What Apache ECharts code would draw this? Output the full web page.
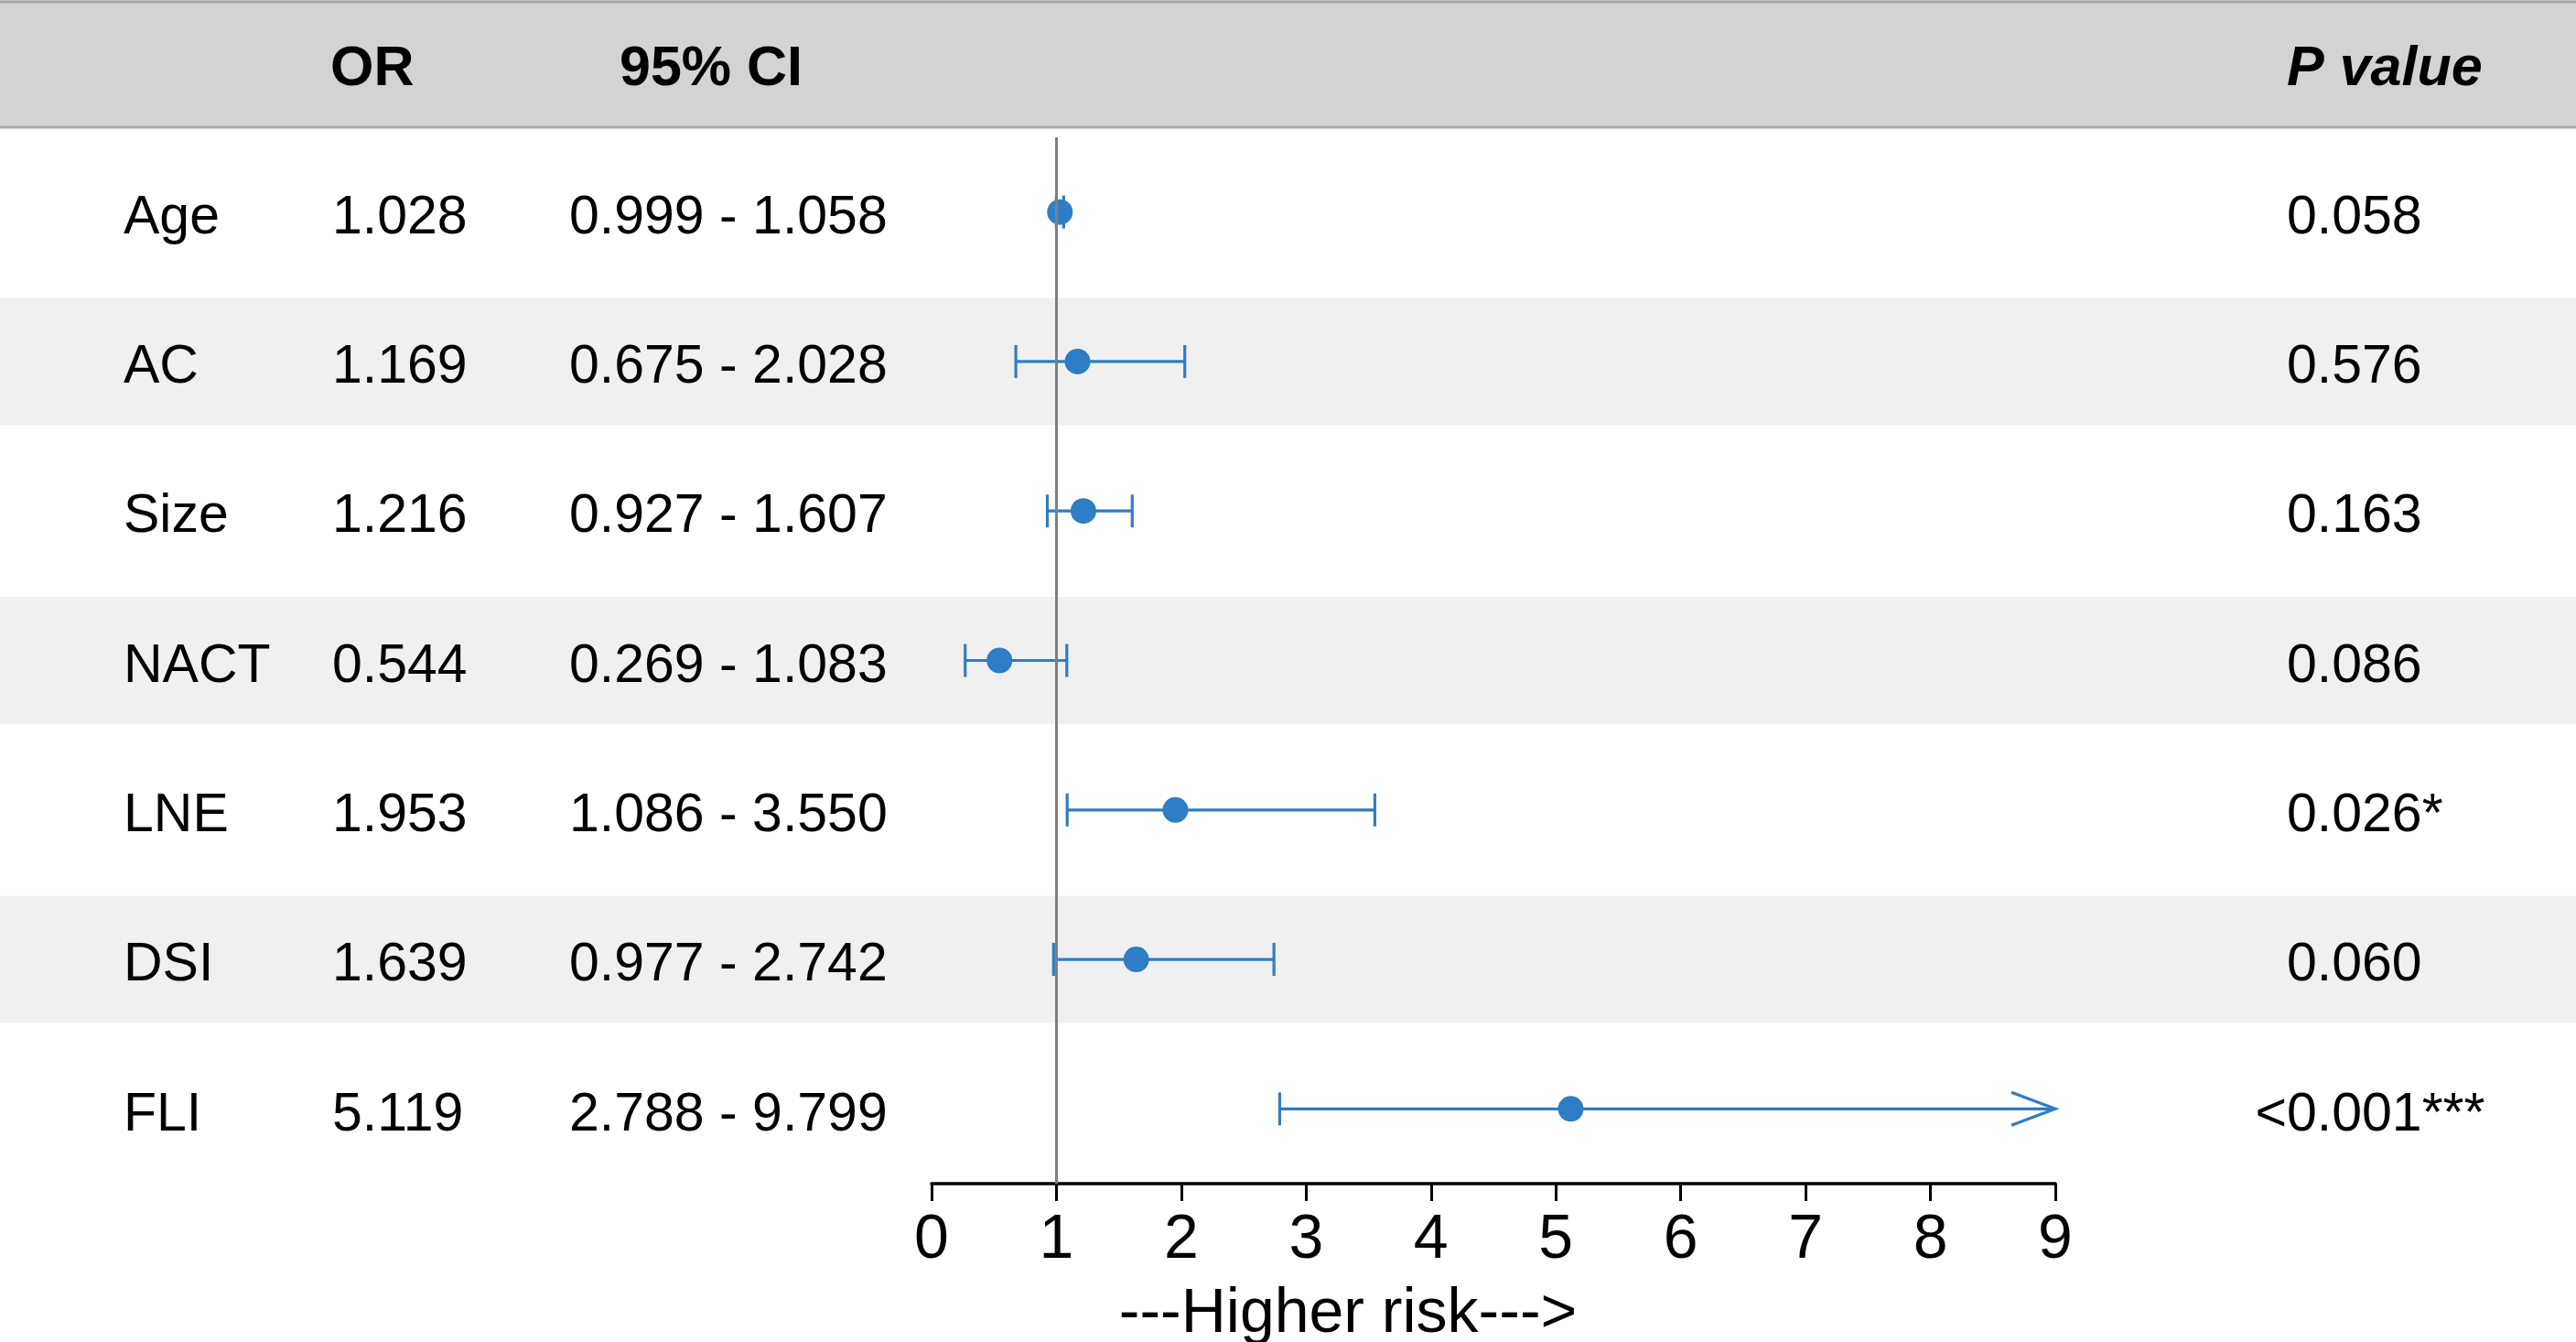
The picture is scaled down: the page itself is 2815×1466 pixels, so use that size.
<!DOCTYPE html>
<html>
<head>
<meta charset="utf-8">
<script src="https://cdn.jsdelivr.net/npm/echarts@6/dist/echarts.min.js"></script>
<style>
  html, body { margin: 0; padding: 0; background: #fff; }
  #chart { width: 2815px; height: 1466px; }
</style>
</head>
<body>
<div id="chart"></div>
<script>
// forest plot data
const names = ['Age', 'AC', 'Size', 'NACT', 'LNE', 'DSI', 'FLI'];
const orValues = [1.028, 1.169, 1.216, 0.544, 1.953, 1.639, 5.119];
const ciLower = [0.999, 0.675, 0.927, 0.269, 1.086, 0.977, 2.788];
const ciUpper = [1.058, 2.028, 1.607, 1.083, 3.550, 2.742, 9.799];
const pLabels = ['0.058', '0.576', '0.163', '0.086', '0.026*', '0.060', '<0.001***'];
const xTicks = [0, 1, 2, 3, 4, 5, 6, 7, 8, 9];

const FONT = '"Liberation Sans", Arial, Helvetica, sans-serif';
const BLUE = '#2f7dc4';
const xMax = xTicks[xTicks.length - 1];

const chart = echarts.init(document.getElementById('chart'));

// width of "<" so that "<0.001" lines its digits up with the other p values
const ctx = document.createElement('canvas').getContext('2d');
ctx.font = '59px ' + FONT;
const ltWidth = ctx.measureText('<').width;

const rows = names.map((n, i) => [0, i]);

let option = {
    animation: false,
    backgroundColor: '#fff',
    grid: {
        left: 1018,
        right: 569,
        top: 150,
        bottom: 173
    },
    xAxis: {
        type: 'value',
        min: 0,
        max: xMax,
        interval: 1,
        splitLine: { show: false },
        axisLine: {
            show: true,
            onZero: false,
            lineStyle: { color: '#000', width: 3.5 }
        },
        axisTick: {
            show: true,
            length: 19,
            lineStyle: { color: '#000', width: 3 }
        },
        axisLabel: {
            margin: 28,
            fontSize: 68,
            fontFamily: FONT,
            color: '#000'
        }
    },
    yAxis: {
        type: 'category',
        inverse: true,
        data: names,
        show: false
    },
    graphic: [
        {
            type: 'rect',
            z: -10,
            shape: { x: 0, y: 0, width: 2815, height: 139 },
            style: { fill: '#d3d3d3' }
        },
        {
            type: 'line',
            shape: { x1: 0, y1: 2, x2: 2815, y2: 2 },
            style: { stroke: '#a6a6a6', lineWidth: 3 }
        },
        {
            type: 'line',
            shape: { x1: 0, y1: 139, x2: 2815, y2: 139 },
            style: { stroke: '#a9a9a9', lineWidth: 3 }
        },
        {
            type: 'text',
            x: 361, y: 76,
            style: { text: 'OR', font: 'bold 61px ' + FONT, fill: '#000', verticalAlign: 'middle' }
        },
        {
            type: 'text',
            x: 677, y: 76,
            style: { text: '95% CI', font: 'bold 61px ' + FONT, fill: '#000', verticalAlign: 'middle' }
        },
        {
            type: 'text',
            x: 2499, y: 76,
            style: { text: 'P value', font: 'italic bold 61px ' + FONT, fill: '#000', verticalAlign: 'middle' }
        },
        {
            type: 'text',
            x: 1473, y: 1436,
            style: {
                text: '---Higher risk--->',
                font: '68px ' + FONT,
                fill: '#000',
                align: 'center',
                verticalAlign: 'middle'
            }
        }
    ],
    series: [
        {
            // shaded row bands + reference line at OR = 1
            name: 'bands',
            type: 'custom',
            z: 1,
            silent: true,
            data: rows,
            encode: { x: 0, y: 1 },
            renderItem: (params, api) => {
                const i = api.value(1);
                if (i % 2 === 0) return null;
                const y = api.coord([0, i])[1];
                const h = api.size([0, 1])[1] * 0.85;
                return {
                    type: 'rect',
                    shape: { x: 0, y: y - h / 2, width: api.getWidth(), height: h },
                    style: { fill: '#f0f0f0' }
                };
            },
            markLine: {
                silent: true,
                symbol: 'none',
                label: { show: false },
                lineStyle: { color: '#7f7f7f', width: 3, type: 'solid' },
                data: [{ xAxis: 1 }]
            }
        },
        {
            // table text
            name: 'table',
            type: 'custom',
            z: 4,
            silent: true,
            data: rows,
            encode: { x: 0, y: 1 },
            renderItem: (params, api) => {
                const i = api.value(1);
                const y = api.coord([0, i])[1] + 7;
                const txt = (x, s) => ({
                    type: 'text',
                    x: x, y: y,
                    style: { text: s, font: '59px ' + FONT, fill: '#000', verticalAlign: 'middle' }
                });
                const p = pLabels[i];
                const px = p.charAt(0) === '<' ? 2499 - ltWidth : 2499;
                return {
                    type: 'group',
                    children: [
                        txt(135, names[i]),
                        txt(363, orValues[i].toFixed(3)),
                        txt(622, ciLower[i].toFixed(3) + ' - ' + ciUpper[i].toFixed(3)),
                        txt(px, p)
                    ]
                };
            }
        },
        {
            // confidence intervals
            name: 'ci',
            type: 'custom',
            z: 2,
            silent: true,
            data: names.map((n, i) => [i, ciLower[i], ciUpper[i]]),
            encode: { y: 0, x: [1, 2] },
            renderItem: (params, api) => {
                const i = api.value(0);
                const lo = api.value(1);
                const hi = api.value(2);
                const p0 = api.coord([lo, i]);
                const p1 = api.coord([Math.min(hi, xMax), i]);
                const y = p0[1];
                const stroke = { stroke: BLUE, lineWidth: 3.2, fill: null };
                const children = [
                    { type: 'line', shape: { x1: p0[0], y1: y, x2: p1[0], y2: y }, style: stroke },
                    { type: 'line', shape: { x1: p0[0], y1: y - 18, x2: p0[0], y2: y + 18 }, style: stroke }
                ];
                if (hi > xMax) {
                    children.push({
                        type: 'polyline',
                        shape: { points: [[p1[0] - 48, y - 18], [p1[0], y], [p1[0] - 48, y + 18]] },
                        style: stroke
                    });
                } else {
                    children.push({ type: 'line', shape: { x1: p1[0], y1: y - 18, x2: p1[0], y2: y + 18 }, style: stroke });
                }
                return { type: 'group', children: children };
            }
        },
        {
            name: 'OR',
            type: 'scatter',
            z: 3,
            symbol: 'circle',
            symbolSize: 28,
            itemStyle: { color: BLUE, opacity: 1 },
            data: orValues.map((v, i) => [v, i])
        }
    ]
};

chart.setOption(option);
</script>
</body>
</html>
